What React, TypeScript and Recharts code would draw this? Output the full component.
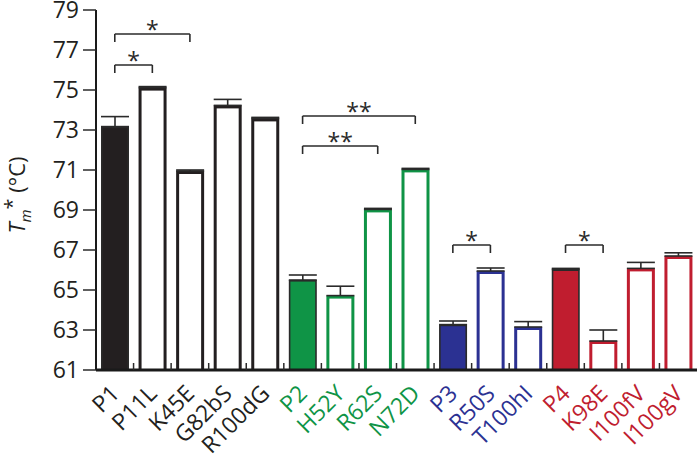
import React from 'react';
import { BarChart, Bar, XAxis, YAxis, ErrorBar, ReferenceLine } from 'recharts';

const categories = ['P1', 'P11L', 'K45E', 'G82bS', 'R100dG', 'P2', 'H52Y', 'R62S', 'N72D', 'P3', 'R50S', 'T100hI', 'P4', 'K98E', 'I100fV', 'I100gV'];
const tmValues = [73.17, 75.12, 70.95, 74.23, 73.58, 65.5, 64.72, 69.03, 71.03, 63.27, 65.95, 63.15, 66.03, 62.45, 66.08, 66.7];
const tmErrors = [0.5, 0.05, 0.05, 0.3, 0.05, 0.25, 0.47, 0.05, 0.05, 0.18, 0.15, 0.27, 0.05, 0.55, 0.3, 0.16];
const groupOf = [0, 0, 0, 0, 0, 1, 1, 1, 1, 2, 2, 2, 3, 3, 3, 3];
const parents = ['P1', 'P2', 'P3', 'P4'];
const yTicks = [61, 63, 65, 67, 69, 71, 73, 75, 77, 79];
const yDomain = [61, 79];
const brackets = [
  { from: 'P1', to: 'P11L', y: 76.25, label: '*' },
  { from: 'P1', to: 'K45E', y: 77.8, label: '*' },
  { from: 'P2', to: 'N72D', y: 73.7, label: '**' },
  { from: 'P2', to: 'R62S', y: 72.2, label: '**' },
  { from: 'P3', to: 'R50S', y: 67.25, label: '*' },
  { from: 'P4', to: 'K98E', y: 67.25, label: '*' },
];
const bracketDrop = 0.4;

const groupColors = ['#231f20', '#0f9446', '#2b3192', '#c01d2f'];
const FONT = '"Open Sans", "Noto Sans", sans-serif';
const DARK = '#2a2a2a';

const data = categories.map((c, i) => ({
  name: c,
  tm: tmValues[i],
  err: [0, tmErrors[i]],
  color: groupColors[groupOf[i]],
  filled: parents.includes(c),
}));

const BarShape = (props: any) => {
  const { x, y, width, height, payload } = props;
  if (width == null || height == null) return null;
  const filled = payload.filled;
  const sw = filled ? 1.6 : 3;
  const stroke = filled ? DARK : payload.color;
  return (
    <rect
      x={x + sw / 2}
      y={y + sw / 2}
      width={Math.max(0, width - sw)}
      height={Math.max(0, height)}
      fill={filled ? payload.color : '#ffffff'}
      stroke={stroke}
      strokeWidth={sw}
    />
  );
};

const XTick = (props: any) => {
  const { x, y, payload, index } = props;
  const off = payload && payload.offset ? payload.offset : 0;
  const i = categories.indexOf(payload.value);
  const color = groupColors[groupOf[i]];
  return (
    <g>
      {index > 0 && (
        <line x1={x - off} x2={x - off} y1={y} y2={y - 7} stroke={DARK} strokeWidth={1.5} />
      )}
      <text
        transform={`translate(${x + 6},${y + 25}) rotate(-45)`}
        textAnchor="end"
        fill={color}
        fontSize={23}
        fontFamily={FONT}
      >
        {payload.value}
      </text>
    </g>
  );
};

const YLabel = (props: any) => {
  const vb = props.viewBox || { x: 0, y: 0, height: 0 };
  const cy = vb.y + vb.height / 2 + 5;
  return (
    <text
      transform={`translate(25,${cy}) rotate(-90)`}
      textAnchor="middle"
      fontSize={22}
      fontFamily={FONT}
      fill="#231f20"
    >
      <tspan fontStyle="italic">T</tspan>
      <tspan fontStyle="italic" fontSize={15} dy={6}>m</tspan>
      <tspan fontSize={20} dy={-12}>*</tspan>
      <tspan dy={6}> (°C)</tspan>
    </text>
  );
};

export default function App() {
  const bracketLines: any[] = [];
  brackets.forEach((b, k) => {
    bracketLines.push(
      <ReferenceLine
        key={`h${k}`}
        segment={[{ x: b.from, y: b.y }, { x: b.to, y: b.y }]}
        stroke={DARK}
        strokeWidth={1.6}
        label={{ value: b.label, position: 'top', offset: -4, fontSize: 23, fill: DARK, fontFamily: FONT }}
      />
    );
    bracketLines.push(
      <ReferenceLine
        key={`a${k}`}
        segment={[{ x: b.from, y: b.y }, { x: b.from, y: b.y - bracketDrop }]}
        stroke={DARK}
        strokeWidth={1.6}
      />
    );
    bracketLines.push(
      <ReferenceLine
        key={`b${k}`}
        segment={[{ x: b.to, y: b.y }, { x: b.to, y: b.y - bracketDrop }]}
        stroke={DARK}
        strokeWidth={1.6}
      />
    );
  });

  return (
    <div style={{ position: 'absolute', left: 0, top: 0, width: 700, height: 458, background: '#fff' }}>
      <BarChart
        width={700}
        height={458}
        data={data}
        margin={{ top: 10, right: 3, bottom: 0, left: 0 }}
        barSize={28}
      >
        <XAxis
          dataKey="name"
          xAxisId={0}
          height={88}
          interval={0}
          tickSize={0}
          tickMargin={0}
          tickLine={false}
          axisLine={{ stroke: '#1a1a1a', strokeWidth: 3 }}
          tick={<XTick />}
        />
        <XAxis
          dataKey="name"
          xAxisId="top"
          orientation="top"
          height={0}
          tick={false}
          tickLine={false}
          axisLine={{ stroke: '#333', strokeWidth: 1.5 }}
        />
        <YAxis
          yAxisId={0}
          width={96}
          domain={yDomain}
          ticks={yTicks}
          allowDataOverflow
          interval={0}
          tickSize={13}
          tickMargin={4}
          tickLine={{ stroke: DARK, strokeWidth: 1.5 }}
          axisLine={{ stroke: '#1a1a1a', strokeWidth: 2 }}
          tick={{ fill: '#231f20', fontSize: 23, fontFamily: FONT }}
          label={{ content: <YLabel /> }}
        />
        <YAxis
          yAxisId="right"
          orientation="right"
          width={0}
          tick={false}
          tickLine={false}
          axisLine={{ stroke: '#333', strokeWidth: 1.5 }}
        />
        {bracketLines}
        <Bar dataKey="tm" xAxisId={0} yAxisId={0} shape={<BarShape />} isAnimationActive={false}>
          <ErrorBar dataKey="err" direction="y" width={14} stroke={DARK} strokeWidth={1.6} />
        </Bar>
      </BarChart>
    </div>
  );
}
